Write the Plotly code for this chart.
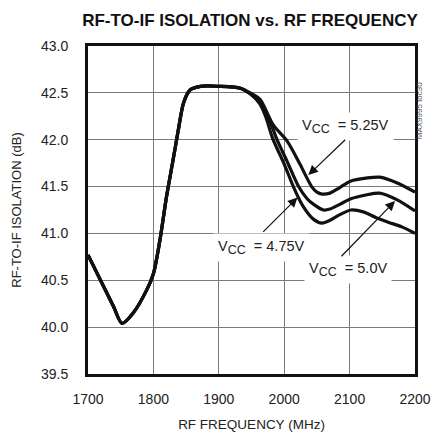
import plotly.graph_objects as go

# ---- data ----
freq_475 = [1700, 1739, 1752, 1769, 1790, 1800, 1810, 1820, 1830, 1838, 1846, 1856, 1872, 1900, 1933,
            1948, 1963, 1972, 1982, 2000, 2014, 2028, 2045, 2058, 2070, 2085, 2102, 2121, 2140, 2159, 2180, 2200]
iso_475 = [40.77, 40.22, 40.04, 40.15, 40.40, 40.57, 40.93, 41.39, 41.78, 42.10, 42.39, 42.53, 42.57, 42.57, 42.55,
           42.49, 42.38, 42.24, 42.02, 41.74, 41.50, 41.30, 41.15, 41.11, 41.14, 41.20, 41.25, 41.23, 41.17, 41.12, 41.07, 41.00]

freq_500 = [1700, 1739, 1752, 1769, 1790, 1800, 1810, 1820, 1830, 1838, 1846, 1856, 1872, 1900, 1933,
            1948, 1963, 1978, 1989, 2005, 2022, 2035, 2045, 2060, 2070, 2085, 2102, 2125, 2146, 2172, 2200]
iso_500 = [40.77, 40.22, 40.04, 40.15, 40.40, 40.57, 40.93, 41.39, 41.78, 42.10, 42.39, 42.53, 42.57, 42.57, 42.55,
           42.49, 42.40, 42.20, 42.00, 41.76, 41.50, 41.37, 41.31, 41.25, 41.26, 41.31, 41.37, 41.41, 41.43, 41.36, 41.24]

freq_525 = [1700, 1739, 1752, 1769, 1790, 1800, 1810, 1820, 1830, 1838, 1846, 1856, 1872, 1900, 1933,
            1948, 1963, 1983, 2005, 2024, 2042, 2050, 2058, 2070, 2085, 2102, 2125, 2146, 2172, 2200]
iso_525 = [40.77, 40.22, 40.04, 40.15, 40.40, 40.57, 40.93, 41.39, 41.78, 42.10, 42.39, 42.53, 42.57, 42.57, 42.55,
           42.50, 42.43, 42.16, 41.98, 41.74, 41.50, 41.44, 41.42, 41.43, 41.49, 41.56, 41.59, 41.60, 41.54, 41.44]

x_ticks = [1700, 1800, 1900, 2000, 2100, 2200]
y_ticks = [39.5, 40.0, 40.5, 41.0, 41.5, 42.0, 42.5, 43.0]
y_tick_text = ["39.5", "40.0", "40.5", "41.0", "41.5", "42.0", "42.5", "43.0"]

FONT = "Liberation Sans, Arial, sans-serif"

fig = go.Figure()
for fx, fy, name in [(freq_475, iso_475, "VCC = 4.75V"),
                     (freq_500, iso_500, "VCC = 5.0V"),
                     (freq_525, iso_525, "VCC = 5.25V")]:
    fig.add_trace(go.Scatter(x=fx, y=fy, mode="lines", name=name,
                             line=dict(color="#111111", width=3.2, shape="spline", smoothing=0.8)))

label_font = dict(family=FONT, size=14.5, color="#222222")
SUB = "<sub><span style='font-size:12.5px'>CC</span></sub>"
# text labels (white boxes hide the grid behind them)
for tx, ty, txt in [(2093, 42.14, "V" + SUB + "  = 5.25V"),
                    (1966, 40.855, "V" + SUB + "  = 4.75V"),
                    (2097.6, 40.61, "V" + SUB + "  = 5.0V")]:
    fig.add_annotation(x=tx, y=ty, xref="x", yref="y", text=txt, showarrow=False,
                       font=label_font, bgcolor="white", borderpad=4)

# arrows
for x0, y0, x1, y1 in [(2095.6, 42.015, 2036.9, 41.623),
                       (1965.6, 41.001, 2020.3, 41.383),
                       (2085.3, 40.74, 2169.4, 41.346)]:
    fig.add_annotation(x=x1, y=y1, ax=x0, ay=y0, xref="x", yref="y", axref="x", ayref="y",
                       text="", showarrow=True, arrowhead=2, arrowsize=1.6, arrowwidth=1.2,
                       arrowcolor="#111111")

fig.add_annotation(x=1.034, y=0.896, xref="paper", yref="paper", text="MAX9995 toc30",
                   showarrow=False, textangle=-90, font=dict(family=FONT, size=8, color="#555555"))

# the page body adds an 8px offset, so the figure is 8px smaller than the window
fig.update_layout(
    width=440, height=426,
    margin=dict(l=80, r=33, t=38, b=60, autoexpand=False),
    paper_bgcolor="white", plot_bgcolor="white",
    showlegend=False,
    title=dict(text="<b>RF-TO-IF ISOLATION vs. RF FREQUENCY</b>", x=0.55, xanchor="center",
               y=0.971, yanchor="middle", font=dict(family=FONT, size=17, color="#111111")),
    font=dict(family=FONT, size=14, color="#222222"),
)
fig.update_xaxes(range=[1700, 2200], tickvals=x_ticks, showgrid=True, gridcolor="#7a7a7a", gridwidth=1.3,
                 showline=True, mirror=True, linecolor="#111111", linewidth=3, ticks="",
                 ticklabelstandoff=10, zeroline=False, automargin=False,
                 title=dict(text="RF FREQUENCY (MHz)", standoff=14, font=dict(size=13.5)),
                 tickfont=dict(size=14))
fig.update_yaxes(range=[39.5, 43.0], tickvals=y_ticks, ticktext=y_tick_text, showgrid=True,
                 gridcolor="#7a7a7a", gridwidth=1.3,
                 showline=True, mirror=True, linecolor="#111111", linewidth=3, ticks="",
                 ticklabelstandoff=14, zeroline=False, automargin=False,
                 title=dict(text="RF-TO-IF ISOLATION (dB)", standoff=17, font=dict(size=13)),
                 tickfont=dict(size=14))

fig.write_html("out.html")
